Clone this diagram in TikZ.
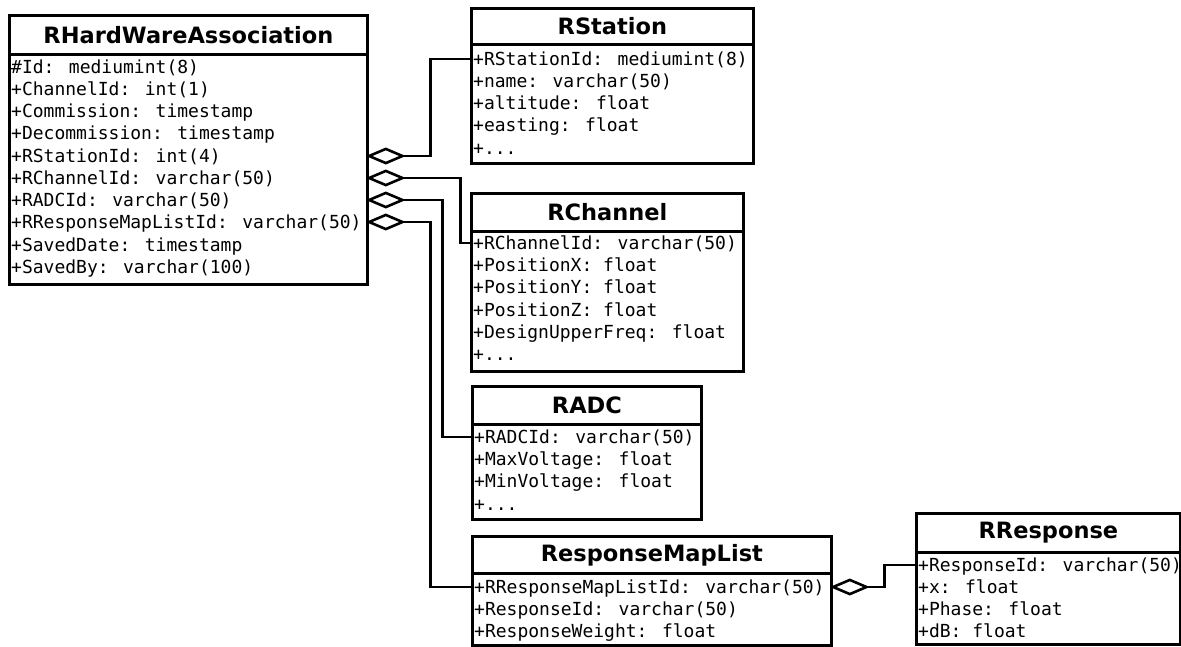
\documentclass[tikz,border=0pt]{standalone}
\usepackage{fontspec}
\setmainfont{DejaVu Sans}
\newfontfamily\monof{DejaVu Sans Mono}
\usetikzlibrary{arrows.meta}
\tikzset{
  x=1pt, y=-1pt,
  box/.style={draw, line width=2.8pt, rectangle, inner sep=0pt, anchor=north west},
  titlebox/.style={box, font=\fontsize{22.5}{26}\selectfont\bfseries},
  row/.style={anchor=west, inner sep=0pt, text height=13pt, text depth=0pt, font=\fontsize{18}{22}\monof},
  conn/.style={line width=2.8pt, shorten <=-3pt, {Diamond[open,length=40pt,width=17pt,line width=2.6pt]}-},
}
% id, L, T, R, S, B, title
\newcommand{\umlcls}[7]{%
  \pgfmathsetmacro{\cw}{#4-#2}%
  \pgfmathsetmacro{\th}{#5-#3}%
  \pgfmathsetmacro{\bh}{#6-#5}%
  \node[box, minimum width=\cw pt, minimum height=\bh pt] (#1-b) at (#2,#5) {};
  \node[titlebox, minimum width=\cw pt, minimum height=\th pt] (#1-t) at (#2,#3) {#7};
}
\begin{document}
\begin{tikzpicture}
\useasboundingbox (0,0) rectangle (1181,646);

% RHardWareAssociation
\umlcls{rha}{8}{14}{366}{53}{283}{RHardWareAssociation}
\node[row] (rha-1) at (11,67) {\#Id: mediumint(8)};
\node[row] (rha-2) at (11,89) {+ChannelId: int(1)};
\node[row] (rha-3) at (11,111) {+Commission: timestamp};
\node[row] (rha-4) at (11,133) {+Decommission: timestamp};
\node[row] (rha-5) at (11,156) {+RStationId: int(4)};
\node[row] (rha-6) at (11,178) {+RChannelId: varchar(50)};
\node[row] (rha-7) at (11,200) {+RADCId: varchar(50)};
\node[row] (rha-8) at (11,222) {+RResponseMapListId: varchar(50)};
\node[row] (rha-9) at (11,245) {+SavedDate: timestamp};
\node[row] (rha-10) at (11,267) {+SavedBy: varchar(100)};

% RStation
\umlcls{rst}{470}{7}{752}{43}{162}{RStation}
\node[row] (rst-1) at (473,59) {+RStationId: mediumint(8)};
\node[row] (rst-2) at (473,81) {+name: varchar(50)};
\node[row] (rst-3) at (473,103) {+altitude: float};
\node[row] (rst-4) at (473,125) {+easting: float};
\node[row] (rst-5) at (473,148) {+...};

% RChannel
\umlcls{rch}{470}{192}{742}{230}{370}{RChannel}
\node[row] (rch-1) at (473,243) {+RChannelId: varchar(50)};
\node[row] (rch-2) at (473,265) {+PositionX: float};
\node[row] (rch-3) at (473,287) {+PositionY: float};
\node[row] (rch-4) at (473,310) {+PositionZ: float};
\node[row] (rch-5) at (473,332) {+DesignUpperFreq: float};
\node[row] (rch-6) at (473,354) {+...};

% RADC
\umlcls{radc}{471}{385}{700}{423}{518}{RADC}
\node[row] (radc-1) at (474,437) {+RADCId: varchar(50)};
\node[row] (radc-2) at (474,459) {+MaxVoltage: float};
\node[row] (radc-3) at (474,481) {+MinVoltage: float};
\node[row] (radc-4) at (474,504) {+...};

% ResponseMapList
\umlcls{rml}{471}{535}{830}{572}{644}{ResponseMapList}
\node[row] (rml-1) at (474,587) {+RResponseMapListId: varchar(50)};
\node[row] (rml-2) at (474,609) {+ResponseId: varchar(50)};
\node[row] (rml-3) at (474,631) {+ResponseWeight: float};

% RResponse
\umlcls{rrs}{915}{512}{1179}{551}{643}{RResponse}
\node[row] (rrs-1) at (918,565) {+ResponseId: varchar(50)};
\node[row] (rrs-2) at (918,587) {+x: float};
\node[row] (rrs-3) at (918,609) {+Phase: float};
\node[row] (rrs-4) at (918,631) {+dB: float};

% connectors
\draw[conn] (rha-b.east |- rha-5) -- ++(62,0) |- (rst-b.west |- rst-1);
\draw[conn] (rha-b.east |- rha-6) -- ++(92,0) |- (rch-b.west |- rch-1);
\draw[conn] (rha-b.east |- rha-7) -- ++(74,0) |- (radc-b.west |- radc-1);
\draw[conn] (rha-b.east |- rha-8) -- ++(62,0) |- (rml-b.west |- rml-1);
\draw[conn] (rml-b.east |- rml-1) -- ++(52,0) |- (rrs-b.west |- rrs-1);
\end{tikzpicture}
\end{document}
